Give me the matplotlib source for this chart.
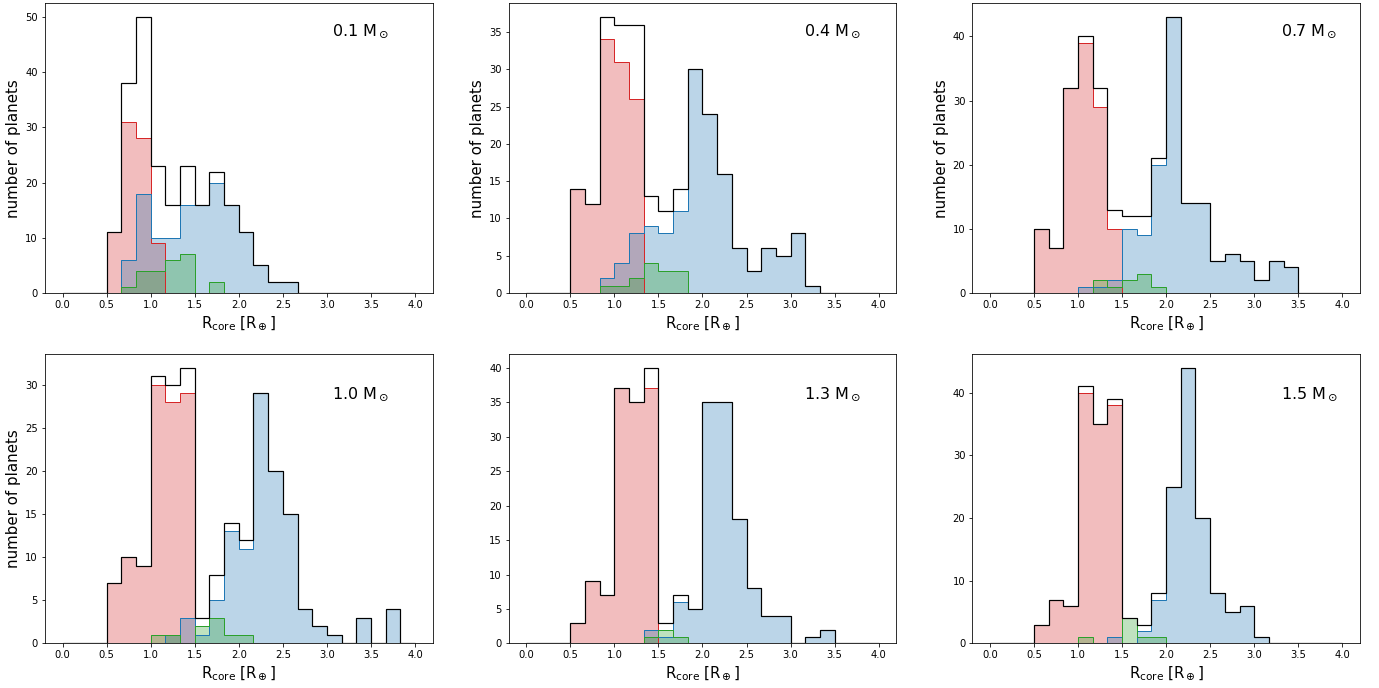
import numpy as np
from matplotlib import pyplot as plt

# stellar masses of the six panels
masses = ['0.1', '0.4', '0.7', '1.0', '1.3', '1.5']

# 24 bins of width 1/6 between 0 and 4 R_earth
edges = np.linspace(0, 4, 25)

# counts per bin, one list per panel
red = [
    [0, 0, 0, 11, 31, 28, 9, 0, 0, 0, 0, 0, 0, 0, 0, 0, 0, 0, 0, 0, 0, 0, 0, 0],
    [0, 0, 0, 14, 12, 34, 31, 26, 0, 0, 0, 0, 0, 0, 0, 0, 0, 0, 0, 0, 0, 0, 0, 0],
    [0, 0, 0, 10, 7, 32, 39, 29, 10, 0, 0, 0, 0, 0, 0, 0, 0, 0, 0, 0, 0, 0, 0, 0],
    [0, 0, 0, 7, 10, 9, 30, 28, 29, 0, 0, 0, 0, 0, 0, 0, 0, 0, 0, 0, 0, 0, 0, 0],
    [0, 0, 0, 3, 9, 7, 37, 35, 37, 0, 0, 0, 0, 0, 0, 0, 0, 0, 0, 0, 0, 0, 0, 0],
    [0, 0, 0, 3, 7, 6, 40, 35, 38, 0, 0, 0, 0, 0, 0, 0, 0, 0, 0, 0, 0, 0, 0, 0],
]
blue = [
    [0, 0, 0, 0, 6, 18, 10, 10, 16, 16, 20, 16, 11, 5, 2, 2, 0, 0, 0, 0, 0, 0, 0, 0],
    [0, 0, 0, 0, 0, 2, 4, 8, 9, 8, 11, 30, 24, 16, 6, 3, 6, 5, 8, 1, 0, 0, 0, 0],
    [0, 0, 0, 0, 0, 0, 1, 1, 2, 10, 9, 20, 43, 14, 14, 5, 6, 5, 2, 5, 4, 0, 0, 0],
    [0, 0, 0, 0, 0, 0, 0, 1, 3, 1, 5, 13, 11, 29, 20, 15, 4, 2, 1, 0, 3, 0, 4, 0],
    [0, 0, 0, 0, 0, 0, 0, 0, 2, 1, 6, 5, 35, 35, 18, 8, 4, 4, 0, 1, 2, 0, 0, 0],
    [0, 0, 0, 0, 0, 0, 0, 0, 1, 0, 2, 7, 25, 44, 20, 8, 5, 6, 1, 0, 0, 0, 0, 0],
]
green = [
    [0, 0, 0, 0, 1, 4, 4, 6, 7, 0, 2, 0, 0, 0, 0, 0, 0, 0, 0, 0, 0, 0, 0, 0],
    [0, 0, 0, 0, 0, 1, 1, 2, 4, 3, 3, 0, 0, 0, 0, 0, 0, 0, 0, 0, 0, 0, 0, 0],
    [0, 0, 0, 0, 0, 0, 0, 2, 1, 2, 3, 1, 0, 0, 0, 0, 0, 0, 0, 0, 0, 0, 0, 0],
    [0, 0, 0, 0, 0, 0, 1, 1, 0, 2, 3, 1, 1, 0, 0, 0, 0, 0, 0, 0, 0, 0, 0, 0],
    [0, 0, 0, 0, 0, 0, 0, 0, 1, 2, 1, 0, 0, 0, 0, 0, 0, 0, 0, 0, 0, 0, 0, 0],
    [0, 0, 0, 0, 0, 0, 1, 0, 0, 4, 1, 1, 0, 0, 0, 0, 0, 0, 0, 0, 0, 0, 0, 0],
]

# label x position (axes fraction) per column
text_x = [0.74, 0.763, 0.797]
text_y = [0.89, 0.847]

centers = 0.5 * (edges[1:] + edges[:-1])

fig, axes = plt.subplots(2, 3, figsize=(1379 / 72, 688 / 72), dpi=72)
plt.subplots_adjust(left=0.0326, right=0.9862, bottom=0.0647, top=0.9952,
                    wspace=0.196, hspace=0.21)

for i, ax in enumerate(axes.flat):
    for counts, c in zip([red[i], blue[i], green[i]],
                         ['tab:red', 'tab:blue', 'tab:green']):
        ax.hist(centers, bins=edges, weights=counts, histtype='bar',
                color=c, alpha=0.3)
        ax.hist(centers, bins=edges, weights=counts, histtype='step',
                color=c, lw=1)
    total = np.array(red[i]) + np.array(blue[i]) + np.array(green[i])
    ax.hist(centers, bins=edges, weights=total, histtype='step',
            color='k', lw=1.2)

    ax.text(text_x[i % 3], text_y[i // 3], r'%s M$_\odot$' % masses[i],
            transform=ax.transAxes, fontsize=16, va='baseline')
    ax.set_xlabel(r'R$_{\rm core}$ [R$_\oplus$]', fontsize=15)
    if i < 4:
        ax.set_ylabel('number of planets', fontsize=15)
    ax.tick_params(labelsize=10)

plt.savefig('out.png', dpi=72)
